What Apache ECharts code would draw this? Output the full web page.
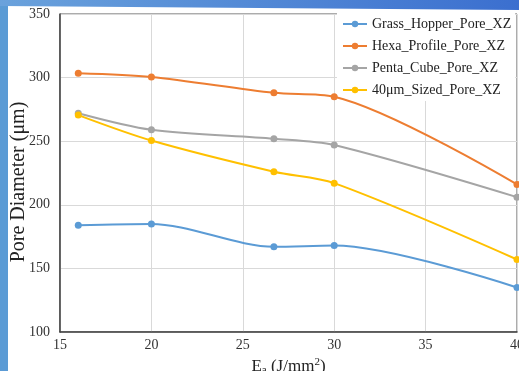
<!DOCTYPE html>
<html>
<head>
<meta charset="utf-8">
<script src="https://cdn.jsdelivr.net/npm/echarts@6/dist/echarts.min.js"></script>
<style>
html,body{margin:0;padding:0;background:#fff;}
#c{width:519px;height:371px;}
</style>
</head>
<body>
<div id="c"></div>
<script>
var xValues = [16, 20, 26.7, 30, 40];
var seriesNames = ['Grass_Hopper_Pore_XZ', 'Hexa_Profile_Pore_XZ', 'Penta_Cube_Pore_XZ', '40\u03bcm_Sized_Pore_XZ'];
var grassHopper = [184, 185, 167, 168, 135];
var hexaProfile = [303.5, 300.5, 288, 285, 216];
var pentaCube = [272, 259, 252, 247, 206];
var sized40 = [270.5, 250.5, 226, 217, 157];
var colors = ['#5b9bd5', '#ed7d31', '#a5a5a5', '#ffc000'];
var yTicks = [100, 150, 200, 250, 300, 350];
var xTicks = [15, 20, 25, 30, 35, 40];

var allValues = [grassHopper, hexaProfile, pentaCube, sized40];
var font = '"Liberation Serif", "Times New Roman", serif';

function pairs(vals) {
  return xValues.map(function (x, i) { return [x, vals[i]]; });
}

var series = seriesNames.map(function (name, i) {
  return {
    name: name,
    type: 'line',
    data: pairs(allValues[i]),
    smooth: 0.3,
    symbol: 'circle',
    symbolSize: 7,
    lineStyle: { color: colors[i], width: 2 },
    itemStyle: { color: colors[i] },
    z: 3 + i
  };
});

var chart = echarts.init(document.getElementById('c'), null, { renderer: 'canvas' });
chart.setOption({
  animation: false,
  backgroundColor: '#ffffff',
  color: colors,
  grid: {
    left: 60, right: 2, top: 14, bottom: 39,
    containLabel: false,
    outerBoundsMode: 'none',
    show: true, borderColor: '#595959', borderWidth: 1, backgroundColor: 'transparent'
  },
  legend: {
    orient: 'vertical',
    left: 337,
    top: 13,
    padding: [4, 4, 4, 5],
    backgroundColor: '#ffffff',
    itemWidth: 24,
    itemHeight: 8,
    itemGap: 8,
    textStyle: { fontFamily: font, fontSize: 14, color: '#222' },
    data: seriesNames
  },
  xAxis: {
    type: 'value',
    min: xTicks[0], max: xTicks[xTicks.length - 1], interval: 5,
    axisLine: { show: true, lineStyle: { color: '#404040', width: 1.5 } },
    axisTick: { show: false },
    splitLine: { show: true, lineStyle: { color: '#d9d9d9', width: 1 } },
    axisLabel: { fontFamily: font, fontSize: 14, color: '#333', margin: 6 },
    name: 'E{sub|a} (J/mm{sup|2})',
    nameLocation: 'middle',
    nameGap: 24,
    nameTextStyle: {
      fontFamily: font, fontSize: 17, color: '#222',
      rich: {
        sub: { fontFamily: font, fontSize: 11, color: '#222', padding: [8, 0, 0, 0] },
        sup: { fontFamily: font, fontSize: 11, color: '#222', padding: [0, 0, 8, 0] }
      }
    }
  },
  yAxis: {
    type: 'value',
    min: yTicks[0], max: yTicks[yTicks.length - 1], interval: 50,
    axisLine: { show: true, lineStyle: { color: '#404040', width: 1.5 } },
    axisTick: { show: false },
    splitLine: { show: true, lineStyle: { color: '#d9d9d9', width: 1 } },
    axisLabel: { fontFamily: font, fontSize: 14, color: '#333', margin: 10 },
    name: 'Pore Diameter (\u03bcm)',
    nameLocation: 'middle',
    nameGap: 31,
    nameMoveOverlap: false,
    nameTextStyle: { fontFamily: font, fontSize: 20, color: '#222', padding: [0, 18, 0, 0] }
  },
  graphic: [
    {
      type: 'rect', left: 0, top: 0, z: 100,
      shape: { width: 8, height: 371 },
      style: { fill: '#5b9bd5' }
    },
    {
      type: 'polygon', z: 100,
      shape: { points: [[0, 0], [519, 0], [519, 10], [0, 6]] },
      style: {
        fill: new echarts.graphic.LinearGradient(0, 0, 1, 0, [
          { offset: 0, color: '#6aa2dc' },
          { offset: 1, color: '#3b6fcf' }
        ])
      }
    }
  ],
  series: series
});
</script>
</body>
</html>
